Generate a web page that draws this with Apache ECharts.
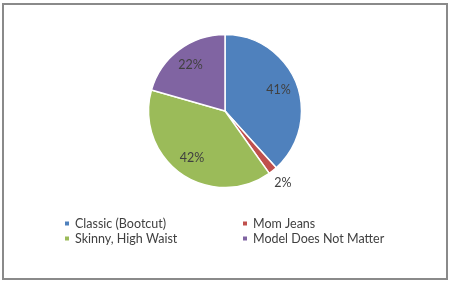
<!DOCTYPE html>
<html><head><meta charset="utf-8">
<script src="https://cdn.jsdelivr.net/npm/echarts@6/dist/echarts.min.js"></script>
<style>html,body{margin:0;padding:0;background:#fff}#c{width:452px;height:283px}</style>
</head><body><div id="c"></div>
<script>
var categories = ['Classic (Bootcut)', 'Mom Jeans', 'Skinny, High Waist', 'Model Does Not Matter'];
var values = [41, 2, 42, 22];
var colors = ['#4F81BD', '#C0504D', '#9BBB59', '#8064A2'];
var outsideLabel = [false, true, false, false];

var font = 'Lato';
var cx = 225, cy = 111, R = 76.5;
var clear = 'rgba(0,0,0,0)';

function mkData(showFn) {
  return categories.map(function (n, i) {
    return { name: n, value: values[i], itemStyle: { color: clear }, label: { show: showFn(i) } };
  });
}
var labelStyle = { position: 'inside', formatter: '{c}%', color: '#404040', fontFamily: font, fontSize: 12.5 };
var legendText = { color: '#404040', fontFamily: font, fontSize: 12.5, lineHeight: 12 };

var chart = echarts.init(document.getElementById('c'), null, { renderer: 'canvas' });
chart.setOption({
  animation: false,
  backgroundColor: '#fff',
  graphic: [{ type: 'rect', shape: { x: 3, y: 4, width: 444, height: 275 }, style: { fill: 'none', stroke: '#8a8a8a', lineWidth: 2 }, silent: true }],
  legend: [
    { data: [categories[0], categories[2]], orient: 'vertical', left: 63, top: 217, padding: 0, icon: 'rect', itemWidth: 6, itemHeight: 6, itemGap: 2,
      textStyle: legendText },
    { data: [categories[1], categories[3]], orient: 'vertical', left: 241, top: 217, padding: 0, icon: 'rect', itemWidth: 6, itemHeight: 6, itemGap: 2,
      textStyle: legendText }
  ],
  series: [
    { type: 'pie', center: [cx, cy], radius: [0, R], startAngle: 90, clockwise: true, silent: true,
      itemStyle: { borderColor: '#fff', borderWidth: 1.5 }, label: { show: false }, labelLine: { show: false },
      data: categories.map(function (n, i) { return { name: n, value: values[i], itemStyle: { color: colors[i] } }; }) },
    { type: 'pie', center: [cx, cy], radius: [32, R], startAngle: 90, clockwise: true, silent: true,
      label: labelStyle, labelLine: { show: false }, legendHoverLink: false,
      data: mkData(function (i) { return !outsideLabel[i]; }) },
    { type: 'pie', center: [cx, cy], radius: [83, 96], startAngle: 90, clockwise: true, silent: true,
      label: labelStyle, labelLine: { show: false }, legendHoverLink: false,
      data: mkData(function (i) { return outsideLabel[i]; }) }
  ]
});
</script></body></html>
